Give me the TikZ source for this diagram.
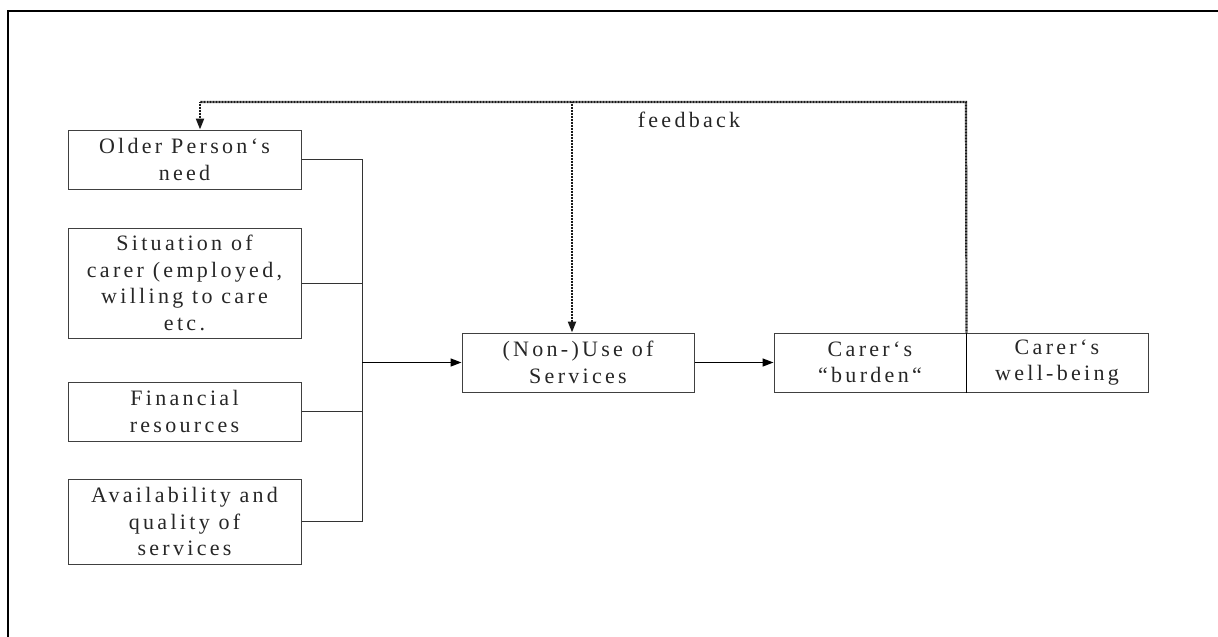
\documentclass[tikz,border=0pt]{standalone}
\usepackage{fontspec}
\setmainfont{Liberation Serif}[LetterSpace=15]
\usetikzlibrary{arrows.meta}
\begin{document}
\begin{tikzpicture}[x=1pt,y=-1pt,
  box/.style={draw=black!75, line width=1pt, align=center, inner sep=0pt,
    font=\fontsize{22}{26.5}\selectfont, text=black!85},
  link/.style={draw=black!80, line width=1pt},
  tip/.style={-{Triangle[length=11pt,width=8pt]}},
  arr/.style={draw=black, line width=1.5pt, tip},
  fb/.style={draw=black!90, line width=2.2pt, dash pattern=on 1pt off 0.5pt},
]
\useasboundingbox (0,0) rectangle (1218,637);
\draw[line width=2pt] (8,637) -- (8,11) -- (1218,11);

\node[box, minimum width=233pt, minimum height=59pt] (older) at (184.5,159.5) {Older Person‘s\\need};
\node[box, minimum width=233pt, minimum height=110pt] (sit) at (184.5,283) {Situation of\\carer (employed,\\willing to care\\etc.};
\node[box, minimum width=233pt, minimum height=59pt] (fin) at (184.5,411.5) {Financial\\resources};
\node[box, minimum width=233pt, minimum height=85pt] (avail) at (184.5,521.5) {Availability and\\quality of\\services};
\node[box, minimum width=232pt, minimum height=59pt] (use) at (578,362.5) {(Non-)Use of\\Services};
\node[box, minimum width=192pt, minimum height=59pt] (burden) at (870,362.5) {Carer‘s\\“burden“};
\node[box, minimum width=182pt, minimum height=59pt] (well) at (1057,362.5) {Carer‘s\\well-being};

\coordinate (bt) at (362,159.5);
\coordinate (bb) at (362,521.5);
\coordinate (bm) at (362,362.5);
\draw[link] (older.east) -- (bt) -- (bb) -- (avail.east);
\draw[link] (sit.east) -- (sit.east -| bt);
\draw[link] (fin.east) -- (fin.east -| bt);
\draw[arr] (bm) -- (use.west);
\draw[arr] (use.east) -- (burden.west);
\draw[line width=1.8pt] (burden.north east) -- (burden.south east);

\coordinate (fr) at (966,102);
\coordinate (fl) at (200,102);
\coordinate (fm) at (572,102);
\draw[fb] (burden.north east) -- (fr) -- (fl);
\draw[fb, tip] (fl) -- (fl |- older.north);
\draw[fb, tip] (fm) -- (fm |- use.north);
\node[font=\fontsize{22}{26.5}\selectfont, text=black!85, anchor=base, inner sep=0pt] (fbl) at (689,127) {feedback};
\end{tikzpicture}
\end{document}
